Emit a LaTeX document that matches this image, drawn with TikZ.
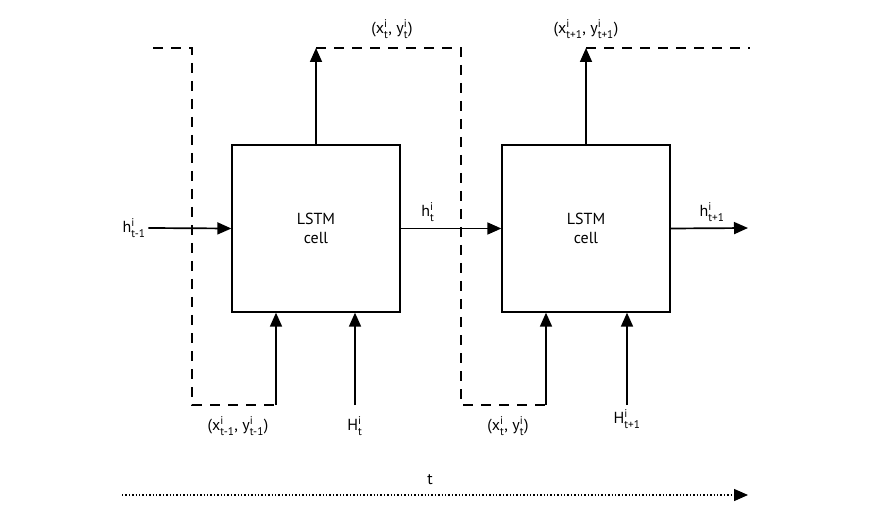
\documentclass[tikz,border=0pt]{standalone}
\usepackage{fontspec}
\usepackage{amsmath}
\setmainfont{PT Sans}
\usetikzlibrary{arrows.meta}
\newcommand{\sv}[2]{#1$^{\text{i}}_{\text{#2}}$}

\begin{document}
\begin{tikzpicture}[x=1pt, y=-1pt, line width=1.7pt, font=\fontsize{16}{19}\selectfont,
        >={Triangle[length=14pt,width=12pt]},
        cellbox/.style={rectangle, draw, line width=1.3pt, minimum width=168pt, minimum height=167pt, align=center},
        seq/.style={line width=1.2pt, dash pattern=on 10pt off 8pt}]
        \useasboundingbox (0,0) rectangle (870,521);
        % cells
        \node[cellbox] (c1) at (316,228.5) {LSTM\\cell};
        \node[cellbox] (c2) at (586,228.5) {LSTM\\cell};
        % hidden states
        \node[inner sep=2pt] (hprev) at (134,228) {\sv{h}{t-1}};
        \node (hcur) at (428,212) {\sv{h}{t}};
        \node (hnext) at (712,212) {\sv{h}{t+1}};
        \coordinate (hend) at (748,228);
        \draw[->] (hprev.east) -- (c1.west);
        \draw[->] (c1.east) -- (c2.west);
        \draw[->] (c2.east) -- (hend);
        % outputs
        \coordinate (o1) at (316,48);
        \coordinate (o2) at (586,48);
        \node (oxy1) at (392,29) {(\sv{x}{t}, \sv{y}{t})};
        \node (oxy2) at (586,29) {(\sv{x}{t+1}, \sv{y}{t+1})};
        \draw[->] (c1.north) -- (o1);
        \draw[->] (c2.north) -- (o2);
        % inputs
        \coordinate (in1) at (276,405);
        \coordinate (in2) at (546,405);
        \coordinate (Hin1) at (355,405);
        \coordinate (Hin2) at (627,405);
        \draw[->] (in1) -- (in1 |- c1.south);
        \draw[->] (Hin1) -- (Hin1 |- c1.south);
        \draw[->] (in2) -- (in2 |- c2.south);
        \draw[->] (Hin2) -- (Hin2 |- c2.south);
        \node (ixy1) at (238,426) {(\sv{x}{t-1}, \sv{y}{t-1})};
        \node (H1) at (355,426) {\sv{H}{t}};
        \node (ixy2) at (508,426) {(\sv{x}{t}, \sv{y}{t})};
        \node (H2) at (627,419) {\sv{H}{t+1}};
        % feedback of outputs to next inputs
        \coordinate (s0) at (153,48);
        \coordinate (s3) at (750,48);
        \draw[seq] (s0) -| (192,405) -- (in1);
        \draw[seq] (o1) -| (461,405) -- (in2);
        \draw[seq] (o2) -- (s3);
        % time axis
        \node (t) at (430,480) {t};
        \coordinate (ts) at (122,495);
        \coordinate (te) at (748,495);
        \draw[->, dotted, line width=1.4pt] (ts) -- (te);
\end{tikzpicture}
\end{document}
